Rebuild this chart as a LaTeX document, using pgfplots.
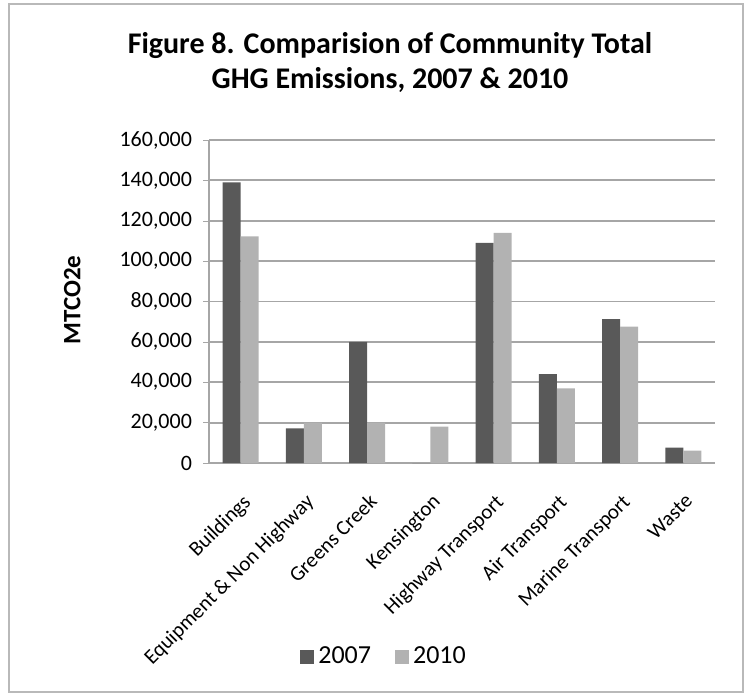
\documentclass[border=0pt]{standalone}
\usepackage{pgfplots}
\pgfplotsset{compat=1.18}
\usepackage{fontspec}
\setmainfont{Carlito}
\definecolor{darkbar}{HTML}{595959}
\definecolor{lightbar}{HTML}{B2B2B2}
\definecolor{gridc}{HTML}{A6A6A6}
\begin{document}
\begin{tikzpicture}
\path (0pt,0pt) rectangle (375pt,346.5pt);
\draw[gray!55, line width=1.2pt] (4.5pt,0.6pt) rectangle (371.5pt,344.5pt);
\node[align=center, font=\fontsize{15}{17.5}\selectfont\bfseries] at (195pt,315pt)
  {Figure 8. Comparision of Community Total\\GHG Emissions, 2007 \& 2010};
\begin{axis}[
  at={(104.5pt,115pt)}, anchor=south west,
  scale only axis, width=253pt, height=161.5pt,
  ybar=0pt, bar width=9pt,
  xmin=-0.5, xmax=7.5, ymin=0, ymax=160000,
  ytick={0,20000,...,160000},
  scaled y ticks=false,
  /pgf/number format/.cd, fixed, 1000 sep={,}, assume math mode=true,
  /pgfplots/.cd,
  xtick={0,1,2,3,4,5,6,7},
  xticklabels={Buildings,Equipment \& Non Highway,Greens Creek,Kensington,Highway Transport,Air Transport,Marine Transport,Waste},
  xticklabel style={rotate=45, anchor=north east, font=\fontsize{10.5}{12}\selectfont, inner sep=1pt, xshift=-7pt, yshift=-7.5pt},
  yticklabel style={font=\fontsize{11}{13}\selectfont, xshift=-2pt},
  x tick style={draw=none},
  y tick style={gridc},
  tick align=outside, major tick length=3pt,
  ymajorgrids, grid style={gridc, line width=0.9pt},
  axis x line*=bottom, axis y line*=left,
  axis line style={gridc, line width=0.9pt},
  ylabel={\bfseries MTCO2e},
  ylabel style={at={(axis description cs:-0.27,0.505)}, anchor=center, font=\fontsize{12.5}{14}\selectfont},
  legend columns=2,
  legend style={at={(axis description cs:0.348,-0.60)}, anchor=center, draw=none, fill=none,
    font=\fontsize{13}{15}\selectfont, /tikz/every even column/.append style={column sep=10pt}},
  legend image code/.code={\fill[#1] (0pt,-3.5pt) rectangle (7pt,3.5pt);},
]
\addplot[fill=darkbar, draw=none] coordinates {(0,139000) (1,17200) (2,60000) (3,0) (4,109000) (5,44000) (6,71300) (7,7600)};
\addplot[fill=lightbar, draw=none] coordinates {(0,112300) (1,20000) (2,20000) (3,18000) (4,114000) (5,37000) (6,67600) (7,6100)};
\legend{2007,2010}
\end{axis}
\end{tikzpicture}
\end{document}
